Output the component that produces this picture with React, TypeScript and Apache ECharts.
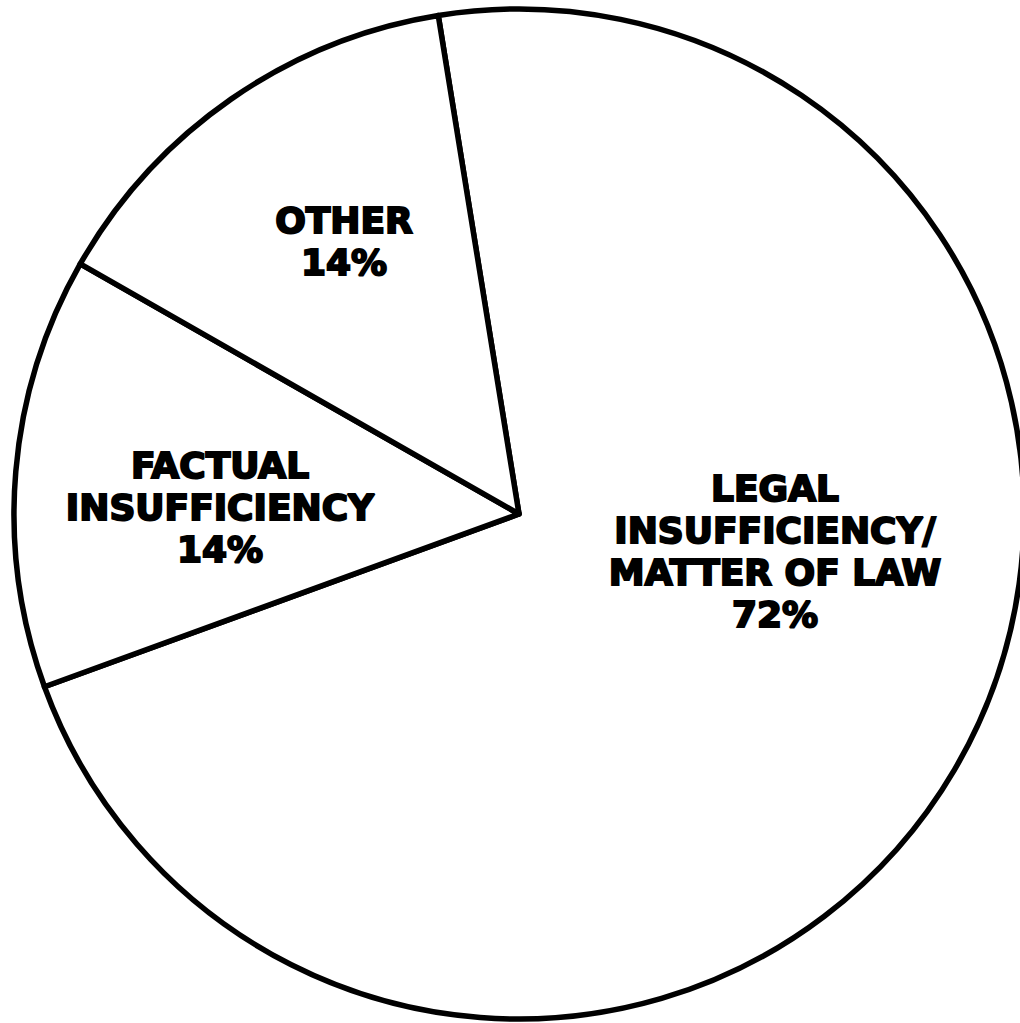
import React, { useEffect, useRef } from "react";
import * as echarts from "echarts";

const categories = [
  "LEGAL\nINSUFFICIENCY/\nMATTER OF LAW",
  "FACTUAL\nINSUFFICIENCY",
  "OTHER",
];
const shares = [72.0, 13.8, 14.2];

export default function App() {
  const ref = useRef<HTMLDivElement>(null);

  useEffect(() => {
    if (!ref.current) return;
    const chart = echarts.init(ref.current, undefined, { renderer: "svg" });
    const labelPos: [number, number][] = [
      [775, 551],
      [220, 507],
      [344, 241],
    ];
    chart.setOption({
      animation: false,
      backgroundColor: "#ffffff",
      series: [
        {
          type: "pie",
          center: [519, 514],
          radius: 505,
          startAngle: 99.2,
          clockwise: true,
          avoidLabelOverlap: false,
          emphasis: { disabled: true },
          itemStyle: { color: "#ffffff", borderColor: "#000000", borderWidth: 5.5 },
          labelLine: { show: false },
          label: {
            show: true,
            position: "inside",
            color: "#000000",
            fontFamily: "DejaVu Sans",
            fontWeight: "bold",
            fontSize: 36,
            lineHeight: 42,
            textBorderColor: "#000000",
            textBorderWidth: 2,
            align: "center",
            formatter: (p: any) => `${p.name}\n${Math.round(p.percent)}%`,
          },
          labelLayout: (p: any) => {
            const pos = labelPos[p.dataIndex];
            return { x: pos[0], y: pos[1], align: "center", verticalAlign: "middle" };
          },
          data: categories.map((name, i) => ({ name, value: shares[i] })),
        },
      ],
    });
    return () => chart.dispose();
  }, []);

  return (
    <div
      ref={ref}
      style={{ position: "absolute", left: 0, top: 0, width: 1020, height: 1023 }}
    />
  );
}
